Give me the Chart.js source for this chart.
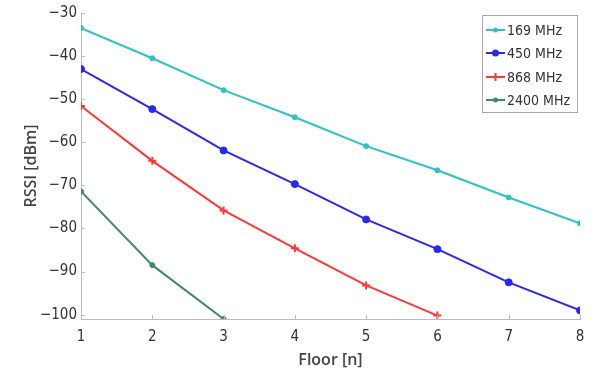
<!DOCTYPE html>
<html>
<head>
<meta charset="utf-8">
<script src="https://cdn.jsdelivr.net/npm/chart.js@4"></script>
<style>
  body { margin: 0; background: #fff; }
  #wrap { width: 596px; height: 370px; }
</style>
</head>
<body>
<div id="wrap"><canvas id="myChart" width="596" height="370"></canvas></div>
<script>
var floors = [1, 2, 3, 4, 5, 6, 7, 8];
var yTicks = [-100, -90, -80, -70, -60, -50, -40, -30];

var rssi169  = [-33.5, -40.5, -47.9, -54.2, -60.9, -66.5, -72.8, -78.8];
var rssi450  = [-43.0, -52.3, -61.9, -69.7, -77.9, -84.8, -92.5, -99.0];
var rssi868  = [-51.6, -64.3, -75.8, -84.6, -93.2, -100.2, null, null];
var rssi2400 = [-71.4, -88.5, -101.0, null, null, null, null, null];

var names = ['169 MHz', '450 MHz', '868 MHz', '2400 MHz'];
var colors = ['rgb(45, 195, 195)', 'rgb(40, 40, 240)', 'rgb(255, 55, 55)', 'rgb(60, 140, 95)'];
var markers = ['circle', 'circle', 'cross', 'circle'];
var markerSize = [2.5, 3.5, 4, 2.5];

var axisColor = '#bbbbbb';
var textColor = '#333333';
var fontFam = '"Liberation Sans Narrow", "DejaVu Sans Condensed", Arial, sans-serif';
var titleFam = '"Open Sans", sans-serif';

function minus(v) {
    return String(v).replace('-', '\u2212');
}

// matlab style ticks inside the axes + legend box
var extras = {
    id: 'extras',
    afterDraw: function (chart) {
        var c = chart.ctx;
        var area = chart.chartArea;
        var xs = chart.scales.x, ys = chart.scales.y;
        c.save();
        c.strokeStyle = axisColor;
        c.lineWidth = 1;
        c.beginPath();
        floors.forEach(function (f, i) {
            var px = Math.round(xs.getPixelForValue(i)) + 0.5;
            c.moveTo(px, area.bottom);
            c.lineTo(px, area.bottom - 4);
        });
        yTicks.forEach(function (t) {
            var py = Math.round(ys.getPixelForValue(t)) + 0.5;
            c.moveTo(area.left, py);
            c.lineTo(area.left + 4, py);
        });
        c.stroke();

        // legend
        var lx = 482, ly = 15, lw = 95, lh = 97;
        c.fillStyle = '#ffffff';
        c.fillRect(lx, ly, lw, lh);
        c.strokeStyle = '#aaaaaa';
        c.strokeRect(lx + 0.5, ly + 0.5, lw, lh);
        c.font = '14px ' + fontFam;
        c.textBaseline = 'middle';
        var rows = [30, 53, 77, 100];
        names.forEach(function (n, i) {
            var y = rows[i];
            c.strokeStyle = colors[i];
            c.fillStyle = colors[i];
            c.lineWidth = 2;
            c.beginPath();
            c.moveTo(486, y);
            c.lineTo(505, y);
            c.stroke();
            if (markers[i] == 'cross') {
                c.beginPath();
                c.moveTo(495.5, y - 4);
                c.lineTo(495.5, y + 4);
                c.stroke();
            } else {
                c.beginPath();
                c.arc(495.5, y, markerSize[i], 0, Math.PI * 2);
                c.fill();
            }
            c.fillStyle = textColor;
            c.fillText(n, 507, y + 1);
        });
        c.restore();
    }
};

var series = [rssi169, rssi450, rssi868, rssi2400];

var ctx = document.getElementById('myChart').getContext('2d');
var myChart = new Chart(ctx, {
    type: 'line',
    data: {
        labels: floors,
        datasets: series.map(function (s, i) {
            return {
                label: names[i],
                data: s,
                borderColor: colors[i],
                backgroundColor: colors[i],
                borderWidth: 2,
                pointStyle: markers[i],
                pointRadius: markerSize[i],
                pointBorderWidth: markers[i] == 'cross' ? 2 : 1,
                spanGaps: false,
                tension: 0,
                clip: 0
            };
        })
    },
    options: {
        responsive: false,
        animation: false,
        layout: { padding: { left: 0, right: 16, top: 12, bottom: 0 } },
        plugins: {
            legend: { display: false },
            tooltip: { enabled: false }
        },
        scales: {
            x: {
                type: 'category',
                offset: false,
                grid: { display: false, drawTicks: false },
                border: { color: axisColor, width: 1 },
                ticks: {
                    color: textColor,
                    padding: 9,
                    maxRotation: 0,
                    font: { family: fontFam, size: 15 }
                },
                title: {
                    display: true,
                    text: 'Floor [n]',
                    color: '#444444',
                    padding: { top: 0, bottom: 0 },
                    font: { family: titleFam, size: 16, weight: '600' }
                },
                afterFit: function (s) { s.height = 51; }
            },
            y: {
                min: -101,
                max: -30,
                grid: { display: false, drawTicks: false },
                border: { color: axisColor, width: 1 },
                afterBuildTicks: function (s) {
                    s.ticks = yTicks.map(function (v) { return { value: v }; });
                },
                ticks: {
                    stepSize: 10,
                    color: textColor,
                    padding: 4,
                    font: { family: fontFam, size: 15 },
                    callback: function (v) { return minus(v); }
                },
                title: {
                    display: true,
                    text: 'RSSI [dBm]',
                    color: '#444444',
                    padding: { top: 22, bottom: 0 },
                    font: { family: titleFam, size: 16, weight: '600' }
                },
                afterFit: function (s) { s.width = 81; }
            }
        }
    },
    plugins: [extras]
});
</script>
</body>
</html>
